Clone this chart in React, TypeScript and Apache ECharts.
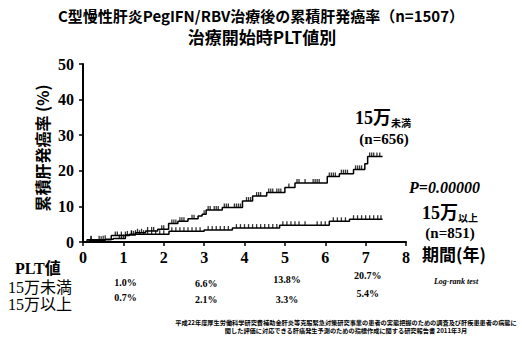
import React, { useEffect, useRef } from "react";
import * as echarts from "echarts";

// Kaplan-Meier step curves (time in years, cumulative incidence %)
const underTimes = [0, 0.15, 0.55, 0.75, 1.05, 1.3, 1.55, 1.85, 2.12, 2.35, 2.6, 2.85, 2.95, 3.05, 3.45, 3.95, 4.2, 4.55, 5.0, 5.25, 6.05, 6.35, 6.7, 6.98, 7.05, 7.42];
const underRates = [0, 0.5, 0.8, 1.0, 2.0, 2.6, 3.1, 3.6, 5.2, 5.8, 6.5, 7.3, 7.8, 9.0, 9.7, 11.5, 12.9, 13.9, 15.3, 16.6, 18.4, 19.2, 20.4, 22.0, 24.0, 24.0];
const overTimes = [0, 0.1, 0.7, 1.15, 2.13, 3.0, 3.7, 4.87, 6.1, 6.6, 7.42];
const overRates = [0, 0.6, 1.8, 2.2, 3.0, 3.4, 3.9, 4.7, 5.8, 6.4, 6.4];

// censoring marks (years)
const underCensor = [0.2, 0.45, 0.55, 0.9, 0.95, 1.0, 1.1, 1.2, 1.25, 1.35, 1.45, 1.6, 1.7, 1.75, 1.95, 2.0, 2.2, 2.25, 2.3, 2.4, 2.45, 2.5, 2.7, 2.75, 3.0, 3.1, 3.15, 3.25, 3.3, 3.35, 3.5, 3.55, 3.6, 3.75, 3.8, 3.85, 3.9, 4.05, 4.1, 4.15, 4.3, 4.35, 4.4, 4.6, 4.65, 4.7, 4.8, 4.85, 4.9, 5.1, 5.3, 5.35, 5.5, 5.7, 5.75, 5.8, 5.85, 6.1, 6.15, 6.2, 6.25, 6.4, 6.45, 6.5, 6.55, 6.75, 6.8, 6.85, 6.9, 7.1, 7.15, 7.2, 7.28, 7.35];
const overCensor = [0.2, 0.4, 0.5, 0.8, 0.85, 0.95, 1.05, 1.2, 1.3, 1.4, 1.5, 1.6, 1.7, 1.8, 1.9, 2.0, 2.2, 2.3, 2.4, 2.5, 2.6, 2.7, 2.8, 2.9, 3.1, 3.2, 3.3, 3.4, 3.5, 3.6, 3.8, 3.9, 4.0, 4.1, 4.2, 4.3, 4.4, 4.5, 4.6, 4.7, 4.8, 4.95, 5.05, 5.15, 5.25, 5.35, 5.5, 5.8, 5.9, 6.0, 6.2, 6.3, 6.4, 6.5, 6.7, 6.8, 6.9, 7.0, 7.1, 7.2, 7.3, 7.38];

// table under the axis
const tableYears = [1, 3, 5, 7];
const underTable = ["1.0%", "6.6%", "13.8%", "20.7%"];
const overTable = ["0.7%", "2.1%", "3.3%", "5.4%"];
const underTableDy = [282, 283, 279, 275];
const overTableDy = [297, 299, 299, 293];

const SERIF = "'Liberation Serif', 'Noto Sans CJK JP', serif";
const SANS = "'Noto Sans CJK JP', 'Liberation Sans', sans-serif";

function stepValue(times: number[], rates: number[], t: number): number {
  let v = rates[0];
  for (let i = 0; i < times.length; i++) if (times[i] <= t) v = rates[i];
  return v;
}

export default function App() {
  const ref = useRef<HTMLDivElement>(null);
  useEffect(() => {
    if (!ref.current) return;
    const chart = echarts.init(ref.current, null, { renderer: "svg" });
    const axisCommon = {
      axisLine: { show: true, lineStyle: { color: "#000", width: 2 } },
      axisTick: { show: true, inside: false, length: 4, lineStyle: { color: "#000", width: 1.5 } },
      splitLine: { show: false },
    };
    const censorSeries = (times: number[], rates: number[], censor: number[]) => ({
      type: "scatter",
      data: censor.map((t) => [t, stepValue(times, rates, t)]),
      symbol: "rect",
      symbolSize: [1.3, 4],
      symbolOffset: [0, -2],
      itemStyle: { color: "#000" },
      silent: true,
      z: 3,
    });
    chart.setOption({
      animation: false,
      backgroundColor: "#fff",
      grid: { left: 83, top: 64, width: 323, height: 178 },
      xAxis: {
        type: "value",
        min: 0,
        max: 8,
        interval: 1,
        ...axisCommon,
        axisLabel: { fontFamily: SERIF, fontWeight: "bold", fontSize: 16, color: "#000", margin: 7 },
      },
      yAxis: {
        type: "value",
        min: 0,
        max: 50,
        interval: 10,
        ...axisCommon,
        axisLabel: { fontFamily: SERIF, fontWeight: "bold", fontSize: 16, color: "#000", margin: 9 },
      },
      series: [
        {
          type: "line",
          step: "end",
          data: underTimes.map((t, i) => [t, underRates[i]]),
          showSymbol: false,
          lineStyle: { color: "#000", width: 1.5 },
          z: 2,
        },
        {
          type: "line",
          step: "end",
          data: overTimes.map((t, i) => [t, overRates[i]]),
          showSymbol: false,
          lineStyle: { color: "#000", width: 1.5 },
          z: 2,
        },
        censorSeries(underTimes, underRates, underCensor),
        censorSeries(overTimes, overRates, overCensor),
      ],
    });

    const txt = (x: number, y: number, text: string, font: string, align = "left", extra: any = {}) => ({
      type: "text",
      x,
      y,
      silent: true,
      style: { text, font, fill: "#000", align, verticalAlign: "middle", ...extra },
    });

    const graphics: any[] = [
      txt(261, 15, "C型慢性肝炎PegIFN/RBV治療後の累積肝発癌率（n=1507）", `bold 15px ${SANS}`, "center"),
      txt(262, 36, "治療開始時PLT値別", `bold 17px ${SANS}`, "center"),
      {
        type: "text",
        x: 42,
        y: 148,
        rotation: Math.PI / 2,
        silent: true,
        style: { text: "累積肝発癌率 (%)", font: `bold 16px ${SANS}`, fill: "#000", align: "center", verticalAlign: "middle" },
      },
      {
        type: "text",
        x: 355,
        y: 118,
        silent: true,
        style: {
          text: "{a|15万}{b|未満}",
          verticalAlign: "middle",
          rich: {
            a: { fontFamily: SERIF, fontWeight: "bold", fontSize: 18, fill: "#000" },
            b: { fontFamily: SANS, fontWeight: "bold", fontSize: 10, fill: "#000", verticalAlign: "bottom" },
          },
        },
      },
      txt(384, 139, "(n=656)", `bold 15px ${SERIF}`, "center"),
      txt(409, 187, "P=0.00000", `italic bold 16px ${SERIF}`),
      {
        type: "text",
        x: 422,
        y: 213,
        silent: true,
        style: {
          text: "{a|15万}{b|以上}",
          verticalAlign: "middle",
          rich: {
            a: { fontFamily: SERIF, fontWeight: "bold", fontSize: 18, fill: "#000" },
            b: { fontFamily: SANS, fontWeight: "bold", fontSize: 10, fill: "#000", verticalAlign: "bottom" },
          },
        },
      },
      txt(450, 233, "(n=851)", `bold 15px ${SERIF}`, "center"),
      txt(422, 253, "期間(年)", `bold 17px ${SANS}`),
      txt(15, 268, "PLT値", `bold 16px ${SERIF}`),
      txt(8, 287, "15万未満", `16px ${SERIF}`),
      txt(8, 304, "15万以上", `16px ${SERIF}`),
      txt(456, 281, "Log-rank test", `italic bold 8px ${SERIF}`, "center"),
      txt(346, 322, "平成22年度厚生労働科学研究費補助金肝炎等克服緊急対策研究事業の患者の実態把握のための調査及び肝疾患患者の病態に", `bold 6.2px ${SANS}`, "center"),
      txt(346, 330.5, "関した評価に対応できる肝癌発生予測のための指標作成に関する研究報告書 2011年3月", `bold 6.2px ${SANS}`, "center"),
    ];
    tableYears.forEach((yr, i) => {
      const px = chart.convertToPixel({ xAxisIndex: 0 }, yr) as number;
      graphics.push(txt(px + 2, underTableDy[i], underTable[i], `bold 10px ${SERIF}`, "center"));
      graphics.push(txt(px + 2, overTableDy[i], overTable[i], `bold 10px ${SERIF}`, "center"));
    });
    chart.setOption({ graphic: graphics });
    return () => chart.dispose();
  }, []);
  return <div ref={ref} style={{ position: "absolute", left: 0, top: 0, width: 522, height: 338 }} />;
}
